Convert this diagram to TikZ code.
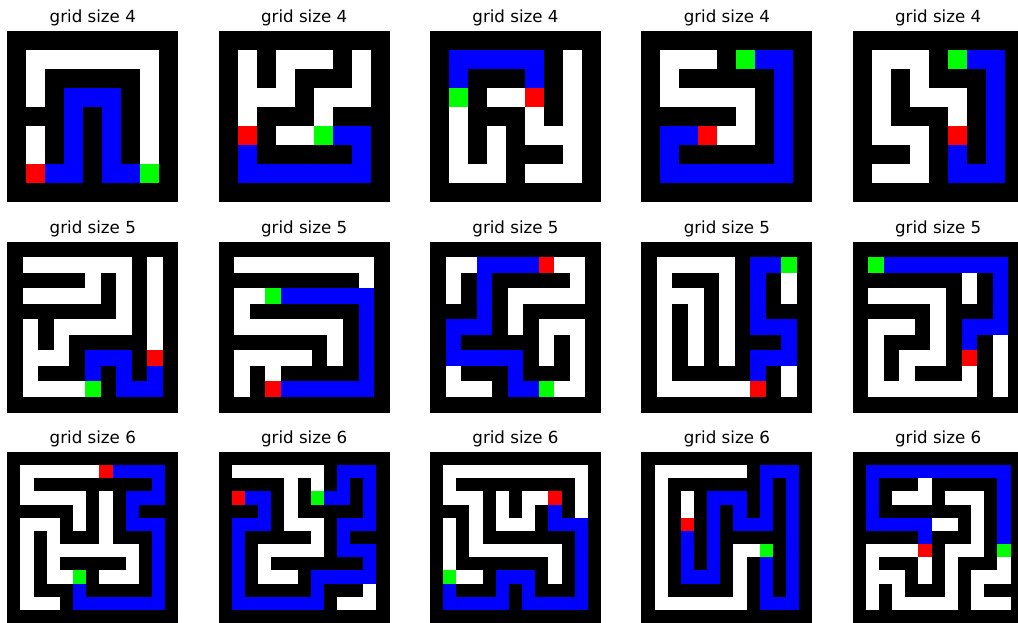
\documentclass[tikz,border=0pt]{standalone}
\usepackage{fontspec}
\setmainfont{DejaVu Sans}
\definecolor{mzB}{RGB}{0,0,255}
\definecolor{mzR}{RGB}{255,0,0}
\definecolor{mzG}{RGB}{0,255,0}
\newcount\mzcol
\expandafter\def\csname mzko\endcsname{white}
\expandafter\def\csname mzkB\endcsname{mzB}
\expandafter\def\csname mzkR\endcsname{mzR}
\expandafter\def\csname mzkG\endcsname{mzG}
\def\mzloop#1{\ifx#1\relax\else\mzcell{#1}\expandafter\mzloop\fi}
\def\mzcell#1{\expandafter\ifx\csname mzk#1\endcsname\relax\else\edef\mzcc{\csname mzk#1\endcsname}\fill[fill=\mzcc] ({\mzX+\the\mzcol*\mzs},{\mzY+\mzrow*\mzs}) rectangle ++(\mzs,\mzs);\fi\global\advance\mzcol by 1\relax}
\newcommand\mazedraw[6]{% #1 name, #2 left, #3 top, #4 cells, #5 title, #6 rows
  \pgfmathsetmacro\mzs{171/#4}%
  \def\mzX{#2}\def\mzY{#3}%
  \fill[black] (#2,#3) rectangle ++(171,171);
  \node[titletext] (#1) at ({#2+85.5},{#3-8.3}) {#5};
  \foreach \r [count=\ri from 0] in {#6} {\global\mzcol=0 \edef\mzrow{\ri}\expandafter\mzloop\r\relax}%
}
\tikzset{titletext/.style={anchor=base, inner sep=0pt, font=\fontsize{16.67}{20}\selectfont}}
\begin{document}
\begin{tikzpicture}[x=1pt,y=-1pt]
\useasboundingbox (0,0) rectangle (1018,623);
\fill[white] (0,0) rectangle (1018,623);
% row 1
\mazedraw{t1}{7.3}{31}{9}{grid size 4}{xxxxxxxxx,xooooooox,xoxxxxxox,xoxBBBxox,xxxBxBxox,xoxBxBxox,xoxBxBxox,xRBBxBBGx,xxxxxxxxx}
\mazedraw{t2}{218.65}{31}{9}{grid size 4}{xxxxxxxxx,xoxoooxox,xoxoxxxox,xoooxooox,xoxxxoxxx,xRxooGBBx,xBxxxxxBx,xBBBBBBBx,xxxxxxxxx}
\mazedraw{t3}{430}{31}{9}{grid size 4}{xxxxxxxxx,xBBBBBxox,xBxxxBxox,xGxooRxox,xoxxxoxox,xoxoxooox,xoxoxxxox,xoooxooox,xxxxxxxxx}
\mazedraw{t4}{641.35}{31}{9}{grid size 4}{xxxxxxxxx,xoooxGBBx,xoxxxxxBx,xoooooxBx,xxxxxoxBx,xBBRooxBx,xBxxxxxBx,xBBBBBBBx,xxxxxxxxx}
\mazedraw{t5}{852.7}{31}{9}{grid size 4}{xxxxxxxxx,xoooxGBBx,xoxoxxxBx,xoxoooxBx,xoxxxoxBx,xoooxRxBx,xxxoxBxBx,xoooxBBBx,xxxxxxxxx}
% row 2
\mazedraw{t6}{7.3}{241.5}{11}{grid size 5}{xxxxxxxxxxx,xoooooooxox,xxxxxoxoxox,xoooooxoxox,xxxxxxxoxox,xoxoooooxox,xoxoxxxxxox,xoooxBBBxRx,xoxxxBxBxBx,xooooGxBBBx,xxxxxxxxxxx}
\mazedraw{t7}{218.65}{241.5}{11}{grid size 5}{xxxxxxxxxxx,xooooooooox,xxxxxxxxxox,xooGBBBBBBx,xoxxxxxxxBx,xoooooooxBx,xxxxxxxoxBx,xoooooxoxBx,xoxoxxxxxBx,xoxRBBBBBBx,xxxxxxxxxxx}
\mazedraw{t8}{430}{241.5}{11}{grid size 5}{xxxxxxxxxxx,xooBBBBRoox,xoxBxxxxxox,xoxBxooooox,xxxBxoxxxxx,xBBBxoxooox,xBxxxxxoxox,xBBBBBxoxox,xoxxxBxxxox,xoooxBBGoox,xxxxxxxxxxx}
\mazedraw{t9}{641.35}{241.5}{11}{grid size 5}{xxxxxxxxxxx,xoooooxBBGx,xoxxxoxBxox,xoooxoxBxox,xoxoxoxBxxx,xoxoxoxBBBx,xoxoxoxxxBx,xoxoxoxBBBx,xoxxxxxBxox,xooooooRxox,xxxxxxxxxxx}
\mazedraw{t10}{852.7}{241.5}{11}{grid size 5}{xxxxxxxxxxx,xGBBBBBBBBx,xxxxxxxoxBx,xoooooxoxBx,xxxxxoxxxBx,xoooxoxBBBx,xoxxxoxBxox,xoxoooxRxox,xoxoxxxoxox,xoooooooxox,xxxxxxxxxxx}
% row 3
\mazedraw{t11}{7.3}{452}{13}{grid size 6}{xxxxxxxxxxxxx,xooooooRBBBBx,xoxxxxxxxxxBx,xoooooxoxBBBx,xxxxxoxoxBxxx,xoooxoxoxBBBx,xoxoxxxoxxxBx,xoxoooooooxBx,xoxoxxxxxoxBx,xoxooGxoooxBx,xoxxxBxxxxxBx,xoooxBBBBBBBx,xxxxxxxxxxxxx}
\mazedraw{t12}{218.65}{452}{13}{grid size 6}{xxxxxxxxxxxxx,xoooooooxBBBx,xxxxxoxoxBxBx,xRBBxoxGBBxBx,xxxBxoxxxxxBx,xBBBxoooxBBBx,xBxxxxxoxBxxx,xBxoooooxBBBx,xBxoxxxxxxxBx,xBxoooxBBBBBx,xBxxxxxBxxxox,xBBBBBBBxooox,xxxxxxxxxxxxx}
\mazedraw{t13}{430}{452}{13}{grid size 6}{xxxxxxxxxxxxx,xooooooooooox,xoxxxxxxxxxox,xoooxoxooRxox,xxxoxoxoxBxox,xoxoxoooxBBBx,xoxoxxxxxxxBx,xoxoooooooxBx,xoxxxxxxxoxBx,xGooxBBBxoxBx,xBxxxBxBxxxBx,xBBBBBxBBBBBx,xxxxxxxxxxxxx}
\mazedraw{t14}{641.35}{452}{13}{grid size 6}{xxxxxxxxxxxxx,xoooooooxBBBx,xoxxxxxxxBxBx,xoxoxBBBxBxBx,xoxoxBxBxBxBx,xoxRxBxBBBxBx,xoxBxBxxxxxBx,xoxBxBxooGxBx,xoxBxBxoxBxBx,xoxBBBxoxBxBx,xoxxxxxoxBxBx,xoooooooxBBBx,xxxxxxxxxxxxx}
\mazedraw{t15}{852.7}{452}{13}{grid size 6}{xxxxxxxxxxxxx,xBBBBBBBBBBBx,xBxxxoxxxxxBx,xBxoooxoooxBx,xBxxxxxxxoxBx,xBBBBBooxoxBx,xxxxxBxxxoxBx,xooooRxoooxGx,xoxxxoxoxxxox,xoooxoxoxooox,xoxoxxxoxoxxx,xoxoooooxooox,xxxxxxxxxxxxx}
\end{tikzpicture}
\end{document}
